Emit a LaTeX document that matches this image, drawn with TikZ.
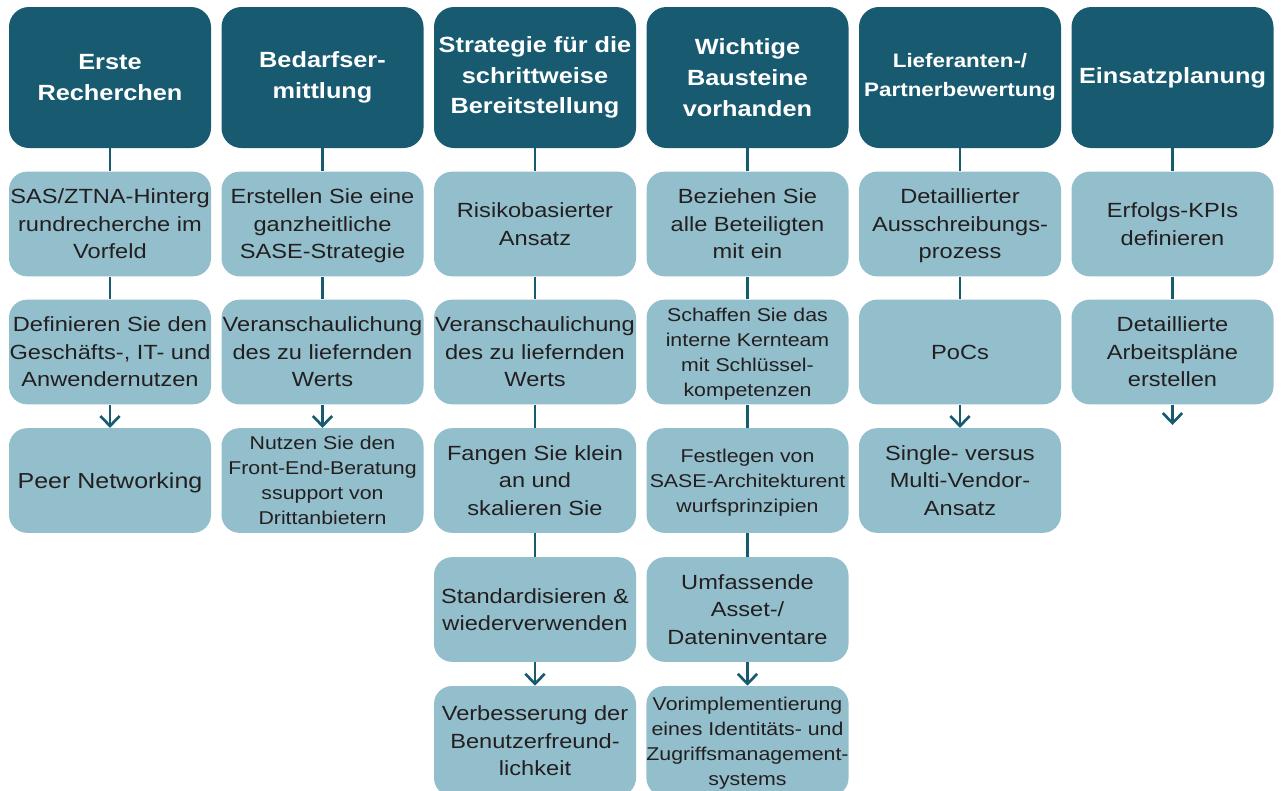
\documentclass[tikz,border=0pt]{standalone}
\usepackage{fontspec}
\setmainfont{Liberation Sans}[FakeStretch=1.15]
\usetikzlibrary{arrows.meta}
\definecolor{hdr}{HTML}{185A70}
\definecolor{lt}{HTML}{93BFCC}
\definecolor{txt}{HTML}{231F20}
\tikzset{
  hbox/.style={rectangle, rounded corners=15pt, fill=hdr, text=white,
    minimum width=151.5pt, minimum height=105.75pt, inner sep=0pt, align=center,
    font=\fontsize{16.5}{23}\selectfont\bfseries},
  hsmall/.style={font=\fontsize{14.6}{21.75}\selectfont\bfseries},
  cbox/.style={rectangle, rounded corners=13.5pt, fill=lt, text=txt,
    minimum width=151.5pt, minimum height=78.5pt, inner sep=0pt, align=center,
    text depth=0pt,
    font=\fontsize{15.4}{20.6}\selectfont},
  lastrow/.style={minimum height=82.5pt},
  smalltext/.style={font=\fontsize{13.9}{18.75}\selectfont},
  bigtext/.style={font=\fontsize{16.3}{20.6}\selectfont},
  link/.style={draw=hdr, line width=2pt},
  arr/.style={link, -{Straight Barb[length=7.5pt, width=14.5pt]}},
}
\begin{document}
\begin{tikzpicture}[x=0.75pt, y=-0.75pt]
\useasboundingbox (0,0) rectangle (1281,790);
% headers
\node[hbox] (h1) at (110,77.5) {Erste\\Recherchen};
\node[hbox] (h2) at (322.5,77.5) {Bedarfser-\\mittlung};
\node[hbox] (h3) at (535,77.5) {Strategie für die\\schrittweise\\Bereitstellung};
\node[hbox] (h4) at (747.5,77.5) {Wichtige\\Bausteine\\vorhanden};
\node[hbox, hsmall] (h5) at (960,77.5) {Lieferanten-/\\Partnerbewertung};
\node[hbox] (h6) at (1172.5,77.5) {Einsatzplanung};
% column 1
\node[cbox] (c11) at (110,224) {SAS/ZTNA-Hinterg\\rundrecherche im\\Vorfeld};
\node[cbox] (c12) at (110,352) {Definieren Sie den\\Geschäfts-, IT- und\\Anwendernutzen};
\node[cbox, bigtext] (c13) at (110,480.5) {Peer Networking};
% column 2
\node[cbox] (c21) at (322.5,224) {Erstellen Sie eine\\ganzheitliche\\SASE-Strategie};
\node[cbox] (c22) at (322.5,352) {Veranschaulichung\\des zu liefernden\\Werts};
\node[cbox, smalltext] (c23) at (322.5,480.5) {Nutzen Sie den\\Front-End-Beratung\\ssupport von\\Drittanbietern};
% column 3
\node[cbox] (c31) at (535,224) {Risikobasierter\\Ansatz};
\node[cbox] (c32) at (535,352) {Veranschaulichung\\des zu liefernden\\Werts};
\node[cbox] (c33) at (535,480.5) {Fangen Sie klein\\an und\\skalieren Sie};
\node[cbox] (c34) at (535,609.5) {Standardisieren \&\\wiederverwenden};
\node[cbox, lastrow] (c35) at (535,741) {Verbesserung der\\Benutzerfreund-\\lichkeit};
% column 4
\node[cbox] (c41) at (747.5,224) {Beziehen Sie\\alle Beteiligten\\mit ein};
\node[cbox, smalltext] (c42) at (747.5,352) {Schaffen Sie das\\interne Kernteam\\mit Schlüssel-\\kompetenzen};
\node[cbox, smalltext] (c43) at (747.5,480.5) {Festlegen von\\SASE-Architekturent\\wurfsprinzipien};
\node[cbox] (c44) at (747.5,609.5) {Umfassende\\Asset-/\\Dateninventare};
\node[cbox, smalltext, lastrow] (c45) at (747.5,741) {Vorimplementierung\\eines Identitäts- und\\Zugriffsmanagement-\\systems};
% column 5
\node[cbox] (c51) at (960,224) {Detaillierter\\Ausschreibungs-\\prozess};
\node[cbox] (c52) at (960,352) {PoCs};
\node[cbox] (c53) at (960,480.5) {Single- versus\\Multi-Vendor-\\Ansatz};
% column 6
\node[cbox] (c61) at (1172.5,224) {Erfolgs-KPIs\\definieren};
\node[cbox] (c62) at (1172.5,352) {Detaillierte\\Arbeitspläne\\erstellen};
\coordinate (e6) at (1172.5,425);
% connectors
\draw[link] (h1) -- (c11);
\draw[link] (c11) -- (c12);
\draw[arr] (c12) -- (c13);
\draw[link] (h2) -- (c21);
\draw[link] (c21) -- (c22);
\draw[arr] (c22) -- (c23);
\draw[link] (h3) -- (c31);
\draw[link] (c31) -- (c32);
\draw[link] (c32) -- (c33);
\draw[link] (c33) -- (c34);
\draw[arr] (c34) -- (c35);
\draw[link] (h4) -- (c41);
\draw[link] (c41) -- (c42);
\draw[link] (c42) -- (c43);
\draw[link] (c43) -- (c44);
\draw[arr] (c44) -- (c45);
\draw[link] (h5) -- (c51);
\draw[link] (c51) -- (c52);
\draw[arr] (c52) -- (c53);
\draw[link] (h6) -- (c61);
\draw[link] (c61) -- (c62);
\draw[arr] (c62) -- (e6);
\end{tikzpicture}
\end{document}
